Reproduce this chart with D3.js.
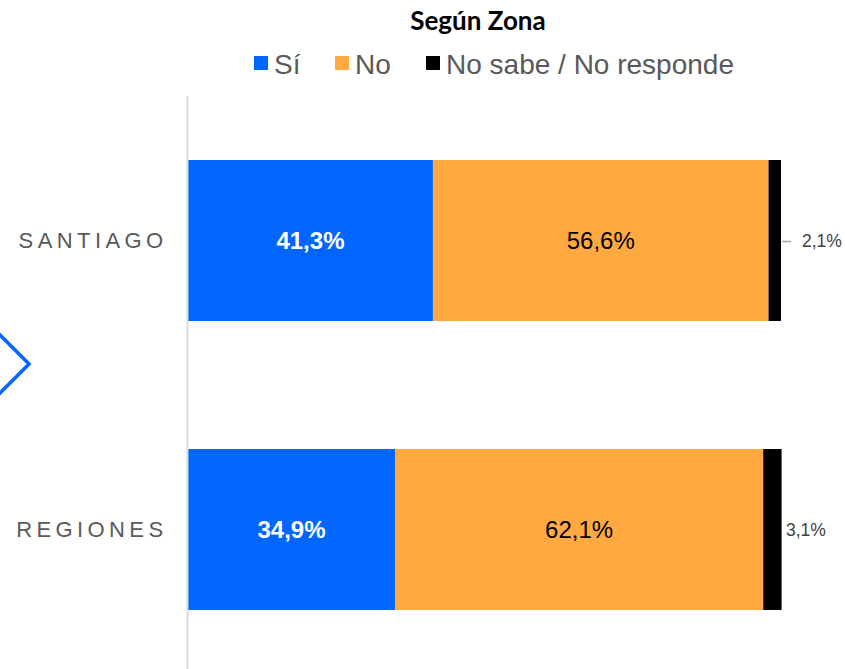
<!DOCTYPE html>
<html>
<head>
<meta charset="utf-8">
<script src="https://cdn.jsdelivr.net/npm/d3@7"></script>
<style>
  body { margin: 0; background: #fff; }
  svg { display: block; }
</style>
</head>
<body>
<div id="chart"></div>
<script>
// Data
const zonas = ["SANTIAGO", "REGIONES"];
const series = ["Sí", "No", "No sabe / No responde"];
const si = [41.3, 34.9];
const no = [56.6, 62.1];
const nsnr = [2.1, 3.1];
const colors = ["#0066ff", "#ffa940", "#000000"];

const width = 845, height = 669;
const margin = {top: 96, right: 64, bottom: 0, left: 188};

const svg = d3.select("#chart").append("svg")
    .attr("width", width)
    .attr("height", height);

// stack the three answers per zone
const rows = zonas.map((z, i) => ({zona: z, "Sí": si[i], "No": no[i], "No sabe / No responde": nsnr[i]}));
const stacked = d3.stack().keys(series)(rows);

const x = d3.scaleLinear()
    .domain([0, 100])
    .range([margin.left, 781]);

const y = d3.scaleBand()
    .domain(zonas)
    .range([margin.top, 674])
    .paddingInner(0.443)
    .paddingOuter(0.2215);

const color = d3.scaleOrdinal().domain(series).range(colors);

// little chevron on the left edge (decoration)
svg.append("path")
    .attr("d", "M-2,333 L29,364 L-2,395")
    .attr("fill", "none")
    .attr("stroke", "#0066ff")
    .attr("stroke-width", 3.5);

// Title
svg.append("text")
    .attr("x", 478).attr("y", 30)
    .attr("text-anchor", "middle")
    .attr("font-family", "Lato, 'Open Sans', sans-serif")
    .attr("font-weight", "bold")
    .attr("font-size", 26)
    .attr("fill", "#000")
    .text("Según Zona");

// Legend
const legendX = [254, 335, 426];
const legend = svg.append("g").selectAll("g")
    .data(series)
    .join("g")
    .attr("transform", (d, i) => `translate(${legendX[i]}, 56)`);
legend.append("rect")
    .attr("width", 14).attr("height", 14)
    .attr("fill", d => color(d));
legend.append("text")
    .attr("x", 20).attr("y", 18)
    .attr("font-family", "'Liberation Sans', Arial, sans-serif")
    .attr("font-size", 28)
    .attr("fill", "#595959")
    .text(d => d);

// Bars
const groups = svg.append("g").selectAll("g")
    .data(stacked)
    .join("g")
    .attr("fill", d => color(d.key));

groups.selectAll("rect")
    .data(d => d)
    .join("rect")
    .attr("x", d => x(d[0]))
    .attr("y", d => y(d.data.zona))
    .attr("width", d => x(d[1]) - x(d[0]))
    .attr("height", y.bandwidth());

const fmt = v => d3.format(".1f")(v).replace(".", ",") + "%";

// Labels inside bars (Sí and No)
stacked.slice(0, 2).forEach((s, si_) => {
    svg.append("g").selectAll("text")
        .data(s)
        .join("text")
        .attr("x", d => (x(d[0]) + x(d[1])) / 2)
        .attr("y", d => y(d.data.zona) + y.bandwidth() / 2)
        .attr("dy", "0.35em")
        .attr("text-anchor", "middle")
        .attr("font-family", "'Liberation Sans', Arial, sans-serif")
        .attr("font-size", 24)
        .attr("font-weight", si_ === 0 ? "bold" : "normal")
        .attr("fill", si_ === 0 ? "#fff" : "#000")
        .text(d => fmt(d[1] - d[0]));
});

// Labels outside (No sabe / No responde)
const last = stacked[2];
const outX = [802, 786];
svg.append("g").selectAll("line")
    .data(last.filter((d, i) => i === 0))
    .join("line")
    .attr("x1", d => x(d[1]) + 1)
    .attr("x2", d => x(d[1]) + 10)
    .attr("y1", d => y(d.data.zona) + y.bandwidth() / 2 + 1)
    .attr("y2", d => y(d.data.zona) + y.bandwidth() / 2 + 1)
    .attr("stroke", "#a6a6a6")
    .attr("stroke-width", 1.5);
svg.append("g").selectAll("text")
    .data(last)
    .join("text")
    .attr("x", (d, i) => outX[i])
    .attr("y", d => y(d.data.zona) + y.bandwidth() / 2)
    .attr("dy", "0.35em")
    .attr("font-family", "'Liberation Sans', Arial, sans-serif")
    .attr("font-size", 17.5)
    .attr("fill", "#404040")
    .text(d => fmt(d[1] - d[0]));

// Vertical axis line + category labels
svg.append("line")
    .attr("x1", margin.left - 0.5).attr("x2", margin.left - 0.5)
    .attr("y1", margin.top).attr("y2", height)
    .attr("stroke", "#d9d9d9")
    .attr("stroke-width", 2);

svg.append("g").selectAll("text")
    .data(zonas)
    .join("text")
    .attr("x", 167.5)
    .attr("y", d => y(d) + y.bandwidth() / 2)
    .attr("dy", "0.35em")
    .attr("text-anchor", "end")
    .attr("font-family", "'Liberation Sans', Arial, sans-serif")
    .attr("font-size", 22)
    .attr("letter-spacing", 4.4)
    .attr("fill", "#595959")
    .text(d => d);
</script>
</body>
</html>
